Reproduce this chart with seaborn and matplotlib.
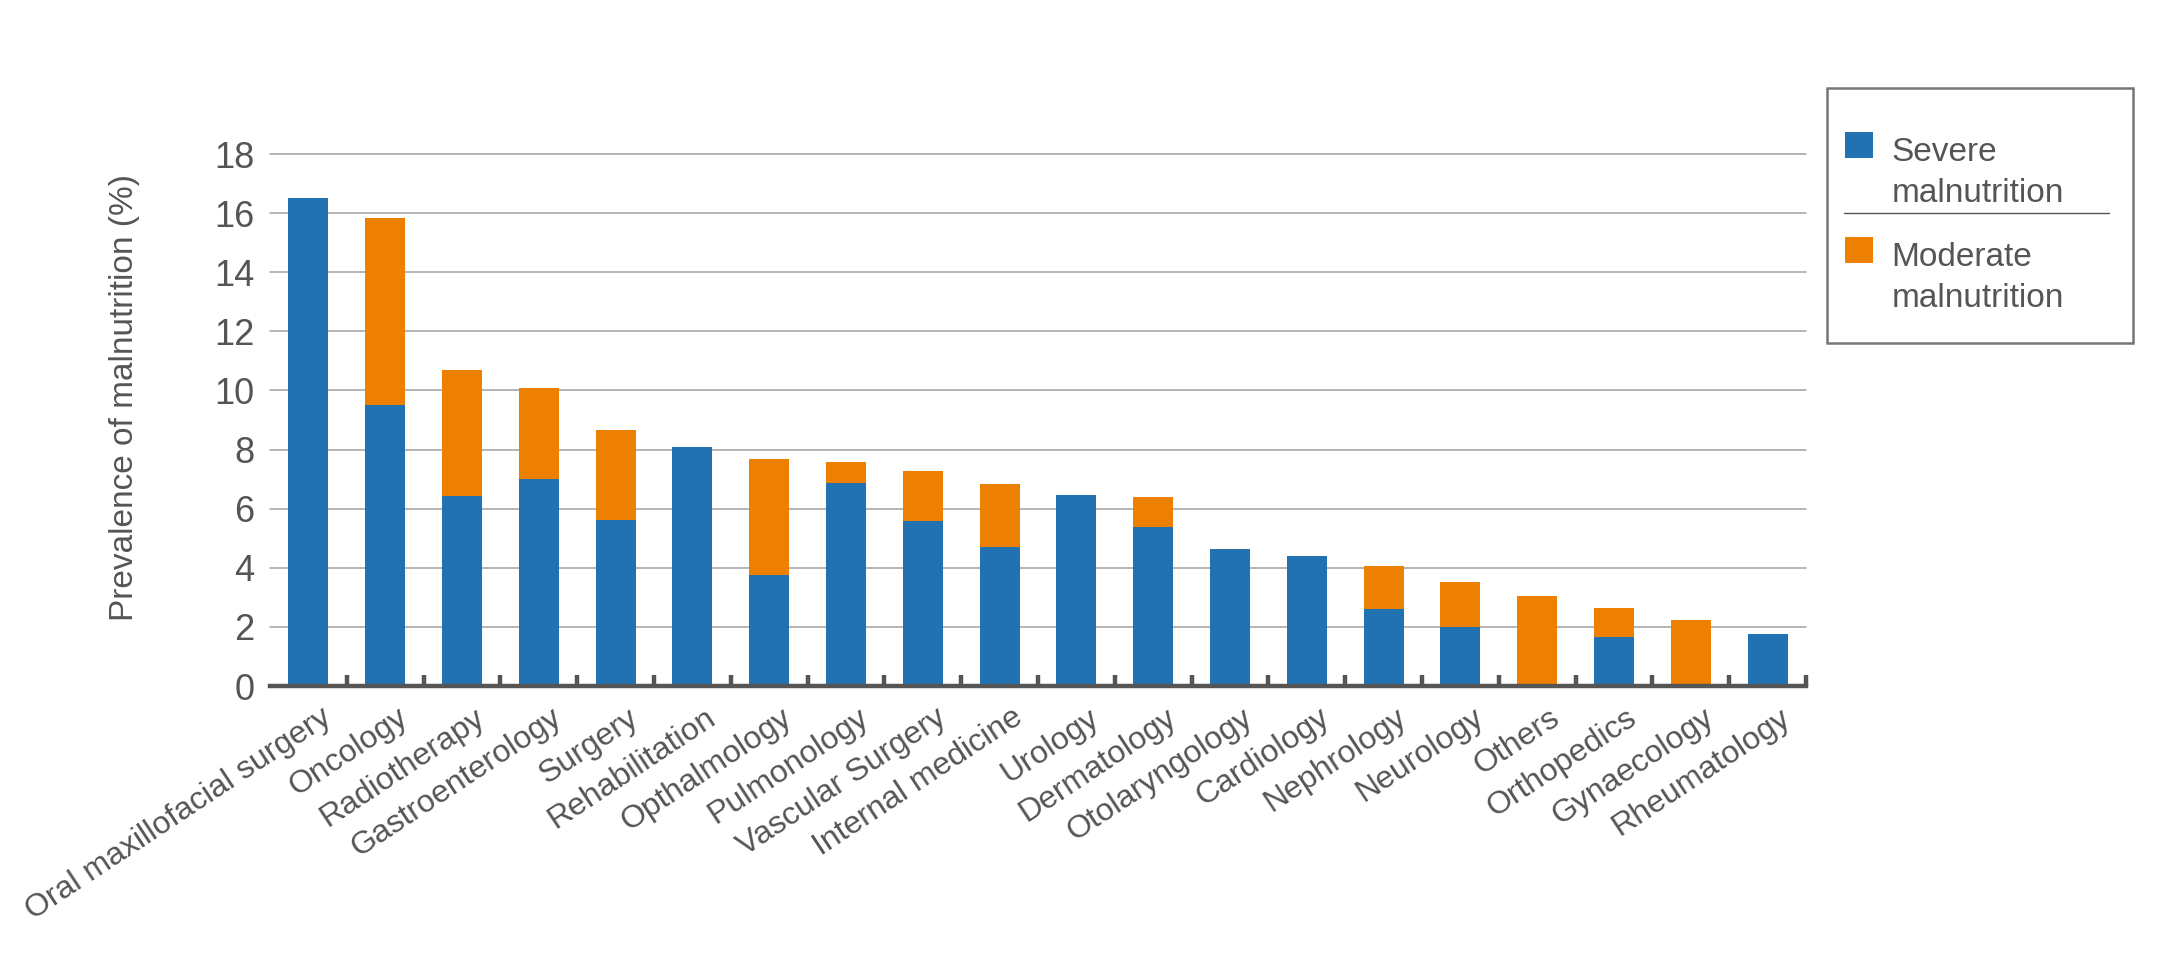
import numpy as np
import pandas as pd
import matplotlib
matplotlib.use("Agg")
import matplotlib.pyplot as plt
import matplotlib.transforms as mtransforms
from matplotlib.patches import Patch, Rectangle
from matplotlib.lines import Line2D
import seaborn as sns

# ---------------- data ----------------
categories = [
    "Oral maxillofacial surgery", "Oncology", "Radiotherapy", "Gastroenterology",
    "Surgery", "Rehabilitation", "Opthalmology", "Pulmonology", "Vascular Surgery",
    "Internal medicine", "Urology", "Dermatology", "Otolaryngology", "Cardiology",
    "Nephrology", "Neurology", "Others", "Orthopedics", "Gynaecology", "Rheumatology",
]
severe = [16.5, 9.5, 6.43, 7.02, 5.61, 8.09, 3.77, 6.87, 5.57, 4.70,
          6.47, 5.39, 4.63, 4.40, 2.62, 2.00, 0.0, 1.66, 0.0, 1.75]
moderate = [0.0, 6.34, 4.25, 3.06, 3.04, 0.0, 3.92, 0.72, 1.71, 2.12,
            0.0, 1.02, 0.0, 0.0, 1.45, 1.52, 3.03, 0.97, 2.22, 0.0]
y_ticks = [0, 2, 4, 6, 8, 10, 12, 14, 16, 18]
series_names = ["Severe\nmalnutrition", "Moderate\nmalnutrition"]
y_label = "Prevalence of malnutrition (%)"

BLUE = "#2271b1"
ORANGE = "#ed8000"
TEXT = "#555555"
AXIS = "#555555"

sns.set_theme(style="white")
plt.rcParams["font.family"] = ["Liberation Sans", "DejaVu Sans"]

df = pd.DataFrame({"dept": categories, "severe": severe, "moderate": moderate})
df["total"] = df["severe"] + df["moderate"]

W, H = 2166, 956
fig = plt.figure(figsize=(W / 100, H / 100), dpi=100)
fig.patch.set_facecolor("white")
ax = fig.add_axes([270 / W, 1 - 686 / H, 1536 / W, 532 / H])

sns.barplot(data=df, x="dept", y="total", order=categories, color=ORANGE,
            saturation=1, width=0.52, errorbar=None, linewidth=0, ax=ax, zorder=2)
sns.barplot(data=df, x="dept", y="severe", order=categories, color=BLUE,
            saturation=1, width=0.52, errorbar=None, linewidth=0, ax=ax, zorder=3)

ax.set_xlim(-0.5, len(categories) - 0.5)
ax.set_ylim(0, 18)
ax.set_yticks(y_ticks)
ax.set_facecolor("white")

# grid
ax.yaxis.grid(True, color="#a0a0a0", linewidth=1.1)
ax.xaxis.grid(False)
ax.set_axisbelow(True)
for gl in ax.get_ygridlines():
    gl.set_clip_on(False)

# spines
for s in ["left", "right", "top"]:
    ax.spines[s].set_visible(False)
ax.spines["bottom"].set_color(AXIS)
ax.spines["bottom"].set_linewidth(3.2)
ax.spines["bottom"].set_zorder(5)

# ticks
ax.set_xticks(range(len(categories)))
ax.set_xticklabels(categories, rotation=33.5, ha="right", rotation_mode="anchor")
ax.set_xticks(np.arange(0.5, len(categories), 1.0), minor=True)
ax.tick_params(axis="x", which="major", length=0, pad=12, labelsize=23, labelcolor=TEXT)
ax.tick_params(axis="x", which="minor", direction="in", length=8, width=3.2,
               color=AXIS, bottom=True)
ax.tick_params(axis="y", which="both", length=0, pad=11, labelsize=26, labelcolor=TEXT)
off = mtransforms.ScaledTranslation(0.12, 0, fig.dpi_scale_trans)
for lab in ax.get_xticklabels():
    lab.set_transform(lab.get_transform() + off)

ax.set_xlabel("")
ax.set_ylabel(y_label, fontsize=24, color=TEXT)
ax.yaxis.set_label_coords(-0.0846, 0.542)

# legend
handles = [Patch(facecolor=BLUE, edgecolor="none"), Patch(facecolor=ORANGE, edgecolor="none")]
leg = fig.legend(handles, series_names, loc="upper left",
                 bbox_to_anchor=(1845 / W, 1 - 137 / H), bbox_transform=fig.transFigure,
                 frameon=False, borderpad=0, borderaxespad=0, fontsize=24,
                 handlelength=0.85, handleheight=0.85, handletextpad=0.55,
                 labelspacing=1.0, labelcolor=TEXT)
for t in leg.get_texts():
    t.set_linespacing(1.4)
for h in leg.legend_handles:
    h.set_y(h.get_y() + 20.3)

fig.add_artist(Rectangle((1827 / W, 1 - 343 / H), 306 / W, 255 / H,
                         transform=fig.transFigure, fill=False,
                         edgecolor="#777777", linewidth=1.8))
fig.add_artist(Line2D([1844 / W, 2109 / W], [1 - 213 / H, 1 - 213 / H],
                      transform=fig.transFigure, color="#555555", linewidth=1.0))

fig.savefig("out.png", dpi=100)
